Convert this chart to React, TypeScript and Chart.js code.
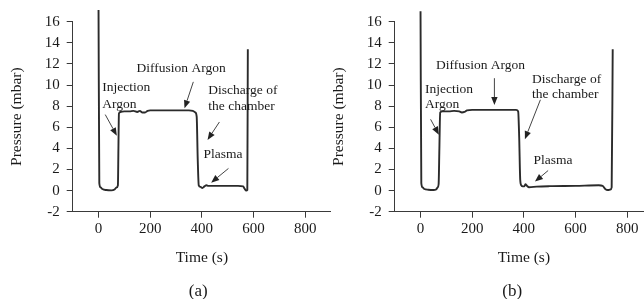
import { useEffect, useRef } from "react";
import { Chart, registerables } from "chart.js";

Chart.register(...registerables);

// ---- Data ----
const timeA = [0, 3, 8, 15, 30, 50, 62, 70, 75, 77, 79, 85, 100, 120, 135, 150, 160, 170, 180, 190, 200, 250, 300, 350, 365, 375, 380, 384, 388, 395, 402, 410, 418, 425, 450, 500, 540, 560, 565, 572, 576, 578];
const pressureA = [17.1, 0.7, 0.3, 0.15, 0.05, 0.02, 0.1, 0.3, 0.5, 4, 7.3, 7.45, 7.5, 7.5, 7.55, 7.45, 7.55, 7.4, 7.4, 7.55, 7.6, 7.6, 7.6, 7.6, 7.55, 7.4, 7.0, 3, 0.5, 0.35, 0.25, 0.4, 0.5, 0.45, 0.45, 0.45, 0.45, 0.4, 0.2, 0.0, 0.05, 13.4];

const timeB = [0, 3, 8, 15, 30, 50, 60, 66, 70, 73, 76, 85, 110, 130, 150, 160, 170, 180, 200, 300, 370, 378, 382, 386, 390, 396, 402, 406, 412, 420, 450, 500, 600, 690, 705, 715, 725, 735, 740, 744];
const pressureB = [17, 0.7, 0.3, 0.15, 0.08, 0.05, 0.1, 0.3, 0.6, 4, 7.4, 7.5, 7.5, 7.55, 7.5, 7.4, 7.45, 7.6, 7.65, 7.65, 7.65, 7.5, 5, 1, 0.5, 0.4, 0.4, 0.6, 0.45, 0.32, 0.38, 0.42, 0.45, 0.5, 0.45, 0.15, 0.05, 0.1, 0.3, 13.4];

const xTicks = [0, 200, 400, 600, 800];
const yTicks = [-2, 0, 2, 4, 6, 8, 10, 12, 14, 16];

const labelTextsA = ["Injection", "Argon", "Diffusion Argon", "Discharge of", "the chamber", "Plasma"];
const labelXA = [14, 14, 320, 425, 425, 406];
const labelYA = [9.73, 8.2, 11.6, 9.5, 7.95, 3.38];
const labelAlignA = ["left", "left", "center", "left", "left", "left"];
const arrowsA = [
  [26, 7.2, 71, 5.2],
  [367, 10.3, 333, 7.8],
  [468, 6.5, 422, 4.8],
  [503, 2.1, 436, 0.75],
];

const labelTextsB = ["Injection", "Argon", "Diffusion Argon", "Discharge of", "the chamber", "Plasma"];
const labelXB = [17, 17, 232, 432, 432, 437];
const labelYB = [9.6, 8.2, 11.85, 10.5, 9.1, 2.84];
const labelAlignB = ["left", "left", "center", "left", "left", "left"];
const arrowsB = [
  [39, 6.75, 71, 5.3],
  [286, 10.65, 286, 8.1],
  [464, 8.6, 404, 4.87],
  [494, 1.9, 443, 0.85],
];

const captionA = "(a)";
const captionB = "(b)";
const captionXA = 386;
const captionXB = 355;

const FONT = "'Liberation Serif', 'Times New Roman', serif";
const TEXT = "#1a1a1a";
const AXIS = "#3a3a3a";

type PanelProps = {
  time: number[];
  pressure: number[];
  texts: string[];
  lx: number[];
  ly: number[];
  align: string[];
  arrows: number[][];
  caption: string;
  captionX: number;
};

function Panel(p: PanelProps) {
  const ref = useRef<HTMLCanvasElement | null>(null);
  useEffect(() => {
    if (!ref.current) return;
    const annot = {
      id: "annot",
      afterDatasetsDraw(chart: any) {
        const ctx = chart.ctx;
        const xs = chart.scales.x;
        const ys = chart.scales.y;
        ctx.save();
        ctx.fillStyle = TEXT;
        ctx.font = `13.5px ${FONT}`;
        ctx.textBaseline = "middle";
        p.texts.forEach((t, i) => {
          ctx.textAlign = p.align[i] as CanvasTextAlign;
          ctx.fillText(t, xs.getPixelForValue(p.lx[i]), ys.getPixelForValue(p.ly[i]));
        });
        ctx.strokeStyle = "#444";
        ctx.fillStyle = "#222";
        ctx.lineWidth = 1;
        p.arrows.forEach((a) => {
          const x1 = xs.getPixelForValue(a[0]);
          const y1 = ys.getPixelForValue(a[1]);
          const x2 = xs.getPixelForValue(a[2]);
          const y2 = ys.getPixelForValue(a[3]);
          const ang = Math.atan2(y2 - y1, x2 - x1);
          const hl = 8;
          const hw = 3.2;
          const bx = x2 - hl * Math.cos(ang);
          const by = y2 - hl * Math.sin(ang);
          ctx.beginPath();
          ctx.moveTo(x1, y1);
          ctx.lineTo(bx, by);
          ctx.stroke();
          ctx.beginPath();
          ctx.moveTo(x2, y2);
          ctx.lineTo(bx + hw * Math.sin(ang), by - hw * Math.cos(ang));
          ctx.lineTo(bx - hw * Math.sin(ang), by + hw * Math.cos(ang));
          ctx.closePath();
          ctx.fill();
        });
        ctx.fillStyle = TEXT;
        ctx.font = `17px ${FONT}`;
        ctx.textAlign = "center";
        ctx.fillText(p.caption, xs.getPixelForValue(p.captionX), 292);
        ctx.restore();
      },
    };
    const chart = new Chart(ref.current, {
      type: "line",
      data: {
        datasets: [
          {
            data: p.time.map((t, i) => ({ x: t, y: p.pressure[i] })),
            borderColor: "#2b2b2b",
            borderWidth: 1.9,
            pointRadius: 0,
            cubicInterpolationMode: "monotone",
            clip: false as any,
            fill: false,
          },
        ],
      },
      options: {
        animation: false,
        responsive: false,
        devicePixelRatio: 1,
        layout: { padding: { top: 21.7, left: 0, right: 0, bottom: 0 } },
        plugins: { legend: { display: false }, tooltip: { enabled: false } },
        scales: {
          x: {
            type: "linear",
            min: -100,
            max: 900,
            afterBuildTicks: (s: any) => {
              s.ticks = xTicks.map((v) => ({ value: v }));
            },
            afterFit: (s: any) => {
              s.height = 87.3;
            },
            grid: { drawOnChartArea: false, drawTicks: true, tickLength: 6, color: AXIS },
            border: { display: true, color: AXIS, width: 1 },
            ticks: { color: TEXT, font: { family: FONT, size: 15 }, padding: 2, maxRotation: 0 },
            title: {
              display: true,
              text: "Time (s)",
              color: TEXT,
              font: { family: FONT, size: 15.5 },
              padding: { top: 0, bottom: 32 },
            },
          },
          y: {
            type: "linear",
            min: -2,
            max: 16,
            afterBuildTicks: (s: any) => {
              s.ticks = yTicks.map((v) => ({ value: v }));
            },
            afterFit: (s: any) => {
              s.width = 72.7;
            },
            grid: { drawOnChartArea: false, drawTicks: true, tickLength: 6, color: AXIS },
            border: { display: true, color: AXIS, width: 1 },
            ticks: { color: TEXT, font: { family: FONT, size: 15 }, padding: 7 },
            title: {
              display: true,
              text: "Pressure (mbar)",
              color: TEXT,
              font: { family: FONT, size: 15.5 },
              padding: { top: 8, bottom: 0 },
            },
          },
        },
      } as any,
      plugins: [annot],
    });
    return () => chart.destroy();
  }, []);
  return <canvas ref={ref} width={331} height={299} style={{ display: "block" }} />;
}

export default function App() {
  return (
    <div
      style={{
        position: "fixed",
        left: 0,
        top: 0,
        width: 644,
        height: 299,
        overflow: "hidden",
        background: "#fff",
      }}
    >
      <div style={{ position: "absolute", left: 0, top: 0 }}>
        <Panel
          time={timeA}
          pressure={pressureA}
          texts={labelTextsA}
          lx={labelXA}
          ly={labelYA}
          align={labelAlignA}
          arrows={arrowsA}
          caption={captionA}
          captionX={captionXA}
        />
      </div>
      <div style={{ position: "absolute", left: 322, top: 0 }}>
        <Panel
          time={timeB}
          pressure={pressureB}
          texts={labelTextsB}
          lx={labelXB}
          ly={labelYB}
          align={labelAlignB}
          arrows={arrowsB}
          caption={captionB}
          captionX={captionXB}
        />
      </div>
    </div>
  );
}
